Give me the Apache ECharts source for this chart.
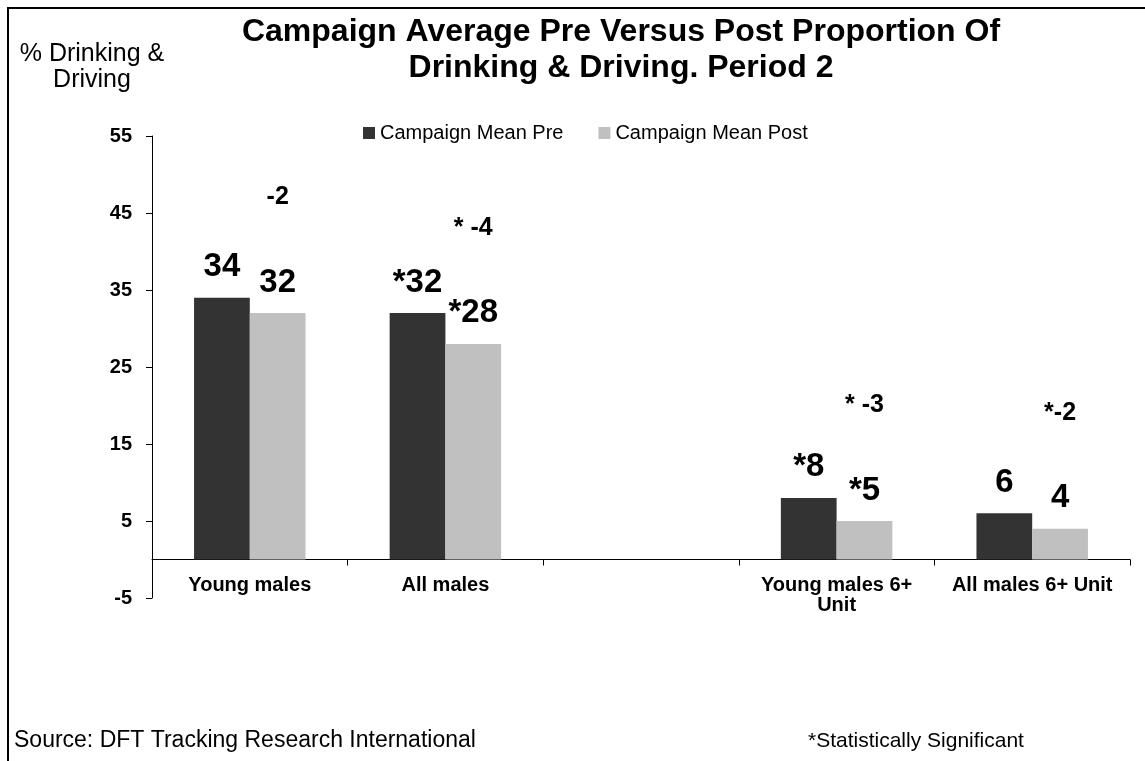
<!DOCTYPE html>
<html>
<head>
<meta charset="utf-8">
<title>Campaign Average Pre Versus Post Proportion Of Drinking & Driving. Period 2</title>
<script src="https://cdn.jsdelivr.net/npm/echarts@6/dist/echarts.min.js"></script>
<style>
  html, body { margin: 0; padding: 0; background: #fff; }
  #chart { width: 1145px; height: 761px; }
</style>
</head>
<body>
<div id="chart"></div>
<script>
// Categories (the blank slot separates the two groups of measures)
const categories = ['Young males', 'All males', '', 'Young males 6+\nUnit', 'All males 6+ Unit'];
// Percentage drinking & driving, before and after the campaign
const preValues = [34, 32, null, 8, 6];
const postValues = [32, 28, null, 5, 4];
// Statistical significance markers for each value
const preSignificant = [false, true, false, true, false];
const postSignificant = [false, true, false, true, false];
// Change from pre to post, as printed above each pair
const changeLabels = ['-2', '* -4', '', '* -3', '*-2'];
// Value axis ticks
const yMin = -5, yMax = 55, yStep = 10;

const FONT = '"Liberation Sans", Arial, Helvetica, sans-serif';
const PRE_COLOR = '#333333';
const POST_COLOR = '#c0c0c0';

const chart = echarts.init(document.getElementById('chart'), null, { renderer: 'canvas' });

const option = {
  backgroundColor: '#ffffff',
  animation: false,
  textStyle: { fontFamily: FONT, color: '#000' },
  title: {
    text: 'Campaign Average Pre Versus Post Proportion Of\nDrinking & Driving. Period 2',
    left: 621,
    top: 14,
    padding: 0,
    textAlign: 'center',
    textStyle: { fontFamily: FONT, fontSize: 32, fontWeight: 'bold', color: '#000', lineHeight: 36 }
  },
  legend: {
    data: ['Campaign Mean Pre', 'Campaign Mean Post'],
    left: 363,
    top: 123,
    padding: 0,
    itemWidth: 12,
    itemHeight: 12,
    itemGap: 35,
    icon: 'rect',
    textStyle: { fontFamily: FONT, fontSize: 20, color: '#000' }
  },
  grid: { left: 152, right: 15, top: 136, bottom: 163, containLabel: false },
  xAxis: {
    type: 'category',
    data: categories,
    axisLine: { onZero: true, lineStyle: { color: '#000', width: 1 } },
    axisTick: { show: true, length: 6, lineStyle: { color: '#000' } },
    axisLabel: {
      interval: 0,
      margin: -23,
      fontFamily: FONT,
      fontSize: 20,
      fontWeight: 'bold',
      color: '#000',
      lineHeight: 20
    },
    splitLine: { show: false }
  },
  yAxis: {
    type: 'value',
    min: yMin,
    max: yMax,
    interval: yStep,
    axisLine: { show: true, lineStyle: { color: '#000', width: 1 } },
    axisTick: { show: true, length: 6, lineStyle: { color: '#000' } },
    axisLabel: { margin: 20, fontFamily: FONT, fontSize: 20, fontWeight: 'bold', color: '#000' },
    splitLine: { show: false }
  },
  series: [
    {
      name: 'Campaign Mean Pre',
      type: 'bar',
      data: preValues,
      barGap: '0%',
      barCategoryGap: '43%',
      itemStyle: { color: PRE_COLOR },
      label: {
        show: true,
        position: 'top',
        distance: 14,
        fontFamily: FONT,
        fontSize: 33,
        fontWeight: 'bold',
        lineHeight: 33,
        color: '#000',
        formatter: p => (preSignificant[p.dataIndex] ? '*' : '') + p.value
      }
    },
    {
      name: 'Campaign Mean Post',
      type: 'bar',
      data: postValues,
      itemStyle: { color: POST_COLOR },
      label: {
        show: true,
        position: 'top',
        distance: 14,
        color: '#000',
        formatter: p => {
          const i = p.dataIndex;
          const v = (postSignificant[i] ? '*' : '') + p.value;
          return '{d|' + changeLabels[i] + '}\n{s| }\n{v|' + v + '}';
        },
        rich: {
          d: { fontFamily: FONT, fontSize: 25, fontWeight: 'bold', lineHeight: 25, color: '#000' },
          s: { fontSize: 1, lineHeight: 56 },
          v: { fontFamily: FONT, fontSize: 33, fontWeight: 'bold', lineHeight: 33, color: '#000' }
        }
      }
    }
  ],
  graphic: [
    {
      type: 'rect',
      shape: { x: 8, y: 8, width: 1300, height: 900 },
      style: { fill: 'none', stroke: '#000', lineWidth: 2 },
      silent: true
    },
    {
      type: 'text',
      x: 92,
      y: 67,
      style: {
        text: '% Drinking &\nDriving',
        fontFamily: FONT,
        fontSize: 25,
        lineHeight: 26,
        fill: '#000',
        align: 'center',
        verticalAlign: 'middle'
      }
    },
    {
      type: 'text',
      x: 14,
      y: 741,
      style: {
        text: 'Source: DFT Tracking Research International',
        fontFamily: FONT,
        fontSize: 23,
        fill: '#000',
        align: 'left',
        verticalAlign: 'middle'
      }
    },
    {
      type: 'text',
      x: 808,
      y: 741,
      style: {
        text: '*Statistically Significant',
        fontFamily: FONT,
        fontSize: 21,
        fill: '#000',
        align: 'left',
        verticalAlign: 'middle'
      }
    }
  ]
};

chart.setOption(option);
</script>
</body>
</html>
